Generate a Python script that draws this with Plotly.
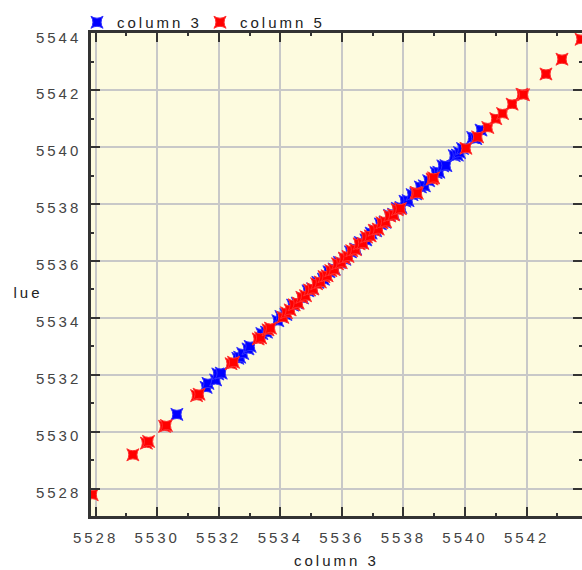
import plotly.graph_objects as go

col3_x = [5530.64, 5531.59, 5531.65, 5531.90, 5531.97, 5532.08, 5532.62, 5532.68, 5532.78, 5532.95,
          5533.02, 5533.40, 5533.55, 5533.92, 5534.02, 5534.18, 5534.40, 5534.55, 5534.72, 5534.90,
          5535.05, 5535.22, 5535.40, 5535.58, 5535.75, 5535.92, 5536.10, 5536.28, 5536.45, 5536.60,
          5536.78, 5536.95, 5537.10, 5537.25, 5537.40, 5537.55, 5537.68, 5537.80, 5537.92, 5538.05,
          5538.15, 5538.28, 5538.40, 5538.55, 5538.68, 5538.82, 5539.06, 5539.15, 5539.28, 5539.38,
          5539.65, 5539.75, 5539.82, 5539.92, 5540.25, 5540.35, 5540.52]
col3_y = [5530.61, 5531.56, 5531.70, 5531.82, 5532.03, 5532.06, 5532.58, 5532.62, 5532.75, 5532.91,
          5533.00, 5533.45, 5533.50, 5533.90, 5534.05, 5534.12, 5534.45, 5534.52, 5534.70, 5534.95,
          5535.02, 5535.25, 5535.36, 5535.62, 5535.72, 5535.95, 5536.06, 5536.32, 5536.42, 5536.65,
          5536.74, 5536.98, 5537.06, 5537.30, 5537.36, 5537.60, 5537.64, 5537.85, 5537.88, 5538.10,
          5538.12, 5538.33, 5538.36, 5538.60, 5538.64, 5538.82, 5539.10, 5539.12, 5539.34, 5539.35,
          5539.70, 5539.72, 5539.81, 5539.95, 5540.34, 5540.30, 5540.60]

col5_x = [5527.89, 5529.21, 5529.65, 5529.72, 5530.24, 5530.30, 5531.28, 5531.36, 5532.40, 5532.48,
          5533.28, 5533.36, 5533.60, 5533.68, 5534.08, 5534.20, 5534.32, 5534.45, 5534.58, 5534.70,
          5534.82, 5534.95, 5535.06, 5535.18, 5535.30, 5535.42, 5535.52, 5535.64, 5535.75, 5535.86,
          5535.98, 5536.08, 5536.20, 5536.32, 5536.44, 5536.56, 5536.68, 5536.80, 5536.92, 5537.05,
          5537.18, 5537.30, 5537.42, 5537.55, 5537.68, 5537.80, 5537.90, 5538.41, 5538.45, 5538.93,
          5538.98, 5540.03, 5540.41, 5540.74, 5541.00, 5541.22, 5541.53, 5541.85, 5541.90, 5542.63,
          5543.15, 5543.77]
col5_y = [5527.79, 5529.19, 5529.60, 5529.66, 5530.19, 5530.22, 5531.27, 5531.32, 5532.39, 5532.44,
          5533.26, 5533.30, 5533.58, 5533.64, 5534.02, 5534.18, 5534.28, 5534.46, 5534.52, 5534.72,
          5534.78, 5534.98, 5535.02, 5535.20, 5535.26, 5535.45, 5535.48, 5535.66, 5535.70, 5535.90,
          5535.94, 5536.10, 5536.16, 5536.36, 5536.40, 5536.60, 5536.62, 5536.84, 5536.88, 5537.08,
          5537.12, 5537.34, 5537.38, 5537.58, 5537.62, 5537.80, 5537.84, 5538.41, 5538.38, 5538.88,
          5538.92, 5539.96, 5540.36, 5540.69, 5541.00, 5541.18, 5541.51, 5541.86, 5541.84, 5542.57,
          5543.09, 5543.79]

x_ticks = [5528, 5530, 5532, 5534, 5536, 5538, 5540, 5542]
y_ticks = [5528, 5530, 5532, 5534, 5536, 5538, 5540, 5542, 5544]

FONT = "Liberation Sans"
TXT = "#444444"
AX = "#333333"

W, H = 582, 570
ML, MR, MT, MB = 91, 0, 33, 54
PW = W - ML - MR
PH = H - MT - MB

fig = go.Figure()
fig.add_trace(go.Scatter(x=col3_x, y=col3_y, mode="markers", name="column 3",
                         marker=dict(symbol="star-square", size=11, color="#0000ff",
                                     line=dict(width=1, color="#3030ff"))))
fig.add_trace(go.Scatter(x=col5_x, y=col5_y, mode="markers", name="column 5",
                         marker=dict(symbol="star-square", size=11, color="#ff0000",
                                     line=dict(width=1, color="#ff3030"))))

axis_common = dict(
    showline=True, linecolor=AX, linewidth=2.5, mirror="allticks",
    ticks="inside", ticklen=9, tickwidth=1.5, tickcolor=AX,
    showgrid=True, gridcolor="#c8c8c8", gridwidth=2,
    zeroline=False, automargin=False,
    tickfont=dict(family=FONT, size=15, color=TXT),
)

fig.update_xaxes(range=[5527.85, 5543.8], tickvals=x_ticks, ticktext=[str(v) for v in x_ticks],
                 minor=dict(dtick=1, tick0=5527, ticks="inside", ticklen=3, tickwidth=1.5,
                            tickcolor=AX, showgrid=False),
                 ticklabelstandoff=6,
                 **axis_common)
fig.update_yaxes(range=[5527.04, 5544.01], tickvals=y_ticks, ticktext=[str(v) for v in y_ticks],
                 minor=dict(dtick=1, tick0=5527, ticks="inside", ticklen=3, tickwidth=1.5,
                            tickcolor=AX, showgrid=False),
                 ticklabelstandoff=4, ticklabelshift=4,
                 **axis_common)

# y axis title (horizontal; only its visible part "lue" as in the reference)
fig.add_annotation(text="lue", xref="paper", yref="paper", x=(28 - ML) / PW, y=(H - MB - 292.5) / PH,
                   xanchor="center", yanchor="middle", showarrow=False,
                   font=dict(family=FONT, size=15, color="#222222"))
# x axis title
fig.add_annotation(text="column 3", xref="paper", yref="paper", x=(336 - ML) / PW, y=-(550 - (H - MB)) / PH,
                   xanchor="center", yanchor="top", showarrow=False,
                   font=dict(family=FONT, size=15, color="#222222"))

fig.update_layout(
    width=W, height=H,
    margin=dict(l=ML, r=MR, t=MT, b=MB, autoexpand=False),
    plot_bgcolor="#fdfbdf", paper_bgcolor="white",
    showlegend=True,
    legend=dict(orientation="h", x=(77 - ML) / PW, y=1 + (MT - 6) / PH, xanchor="left", yanchor="top",
                font=dict(family=FONT, size=15, color="#222222"),
                itemwidth=30, entrywidth=78, entrywidthmode="pixels",
                tracegroupgap=0, bgcolor="rgba(0,0,0,0)"),
)

post = """
document.body.style.margin = '0';
document.body.style.overflow = 'hidden';
var gd = document.getElementById('{plot_id}');
gd.querySelectorAll('.xtick text, .ytick text, .legendtext, .annotation-text').forEach(function(t){
  t.style.letterSpacing = '3px';
});
"""

fig.write_html("out.html", post_script=post, config={"displayModeBar": False})
